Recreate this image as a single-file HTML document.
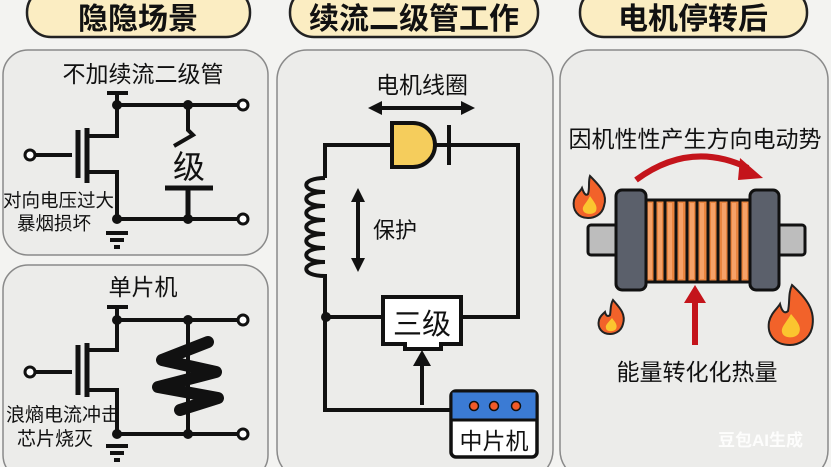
<!DOCTYPE html>
<html><head><meta charset="utf-8"><style>
html,body{margin:0;padding:0;background:#f3f3f1;}
svg{display:block}
text{font-family:"Liberation Sans","Noto Sans CJK SC",sans-serif;fill:#111}
</style></head><body>
<svg width="831" height="467" viewBox="0 0 831 467" xmlns="http://www.w3.org/2000/svg">
<rect width="831" height="467" fill="#f3f3f1"/>
<g stroke="#222" stroke-width="2.5" fill="#fbedc2">
<rect x="27" y="-12" width="223" height="49" rx="24"/>
<rect x="290" y="-12" width="248" height="49" rx="24"/>
<rect x="580" y="-12" width="227" height="49" rx="24"/>
</g>
<g font-size="30" font-weight="bold" text-anchor="middle">
<text x="138" y="29">隐隐场景</text>
<text x="414" y="29">续流二级管工作</text>
<text x="693" y="29">电机停转后</text>
</g>
<g stroke="#8a8a8a" stroke-width="1.5" fill="#ececea">
<rect x="3" y="50" width="265" height="205" rx="25"/>
<rect x="3" y="265" width="265" height="215" rx="25"/>
<rect x="277" y="50" width="276" height="430" rx="30"/>
<rect x="560" y="50" width="268" height="430" rx="30"/>
</g>
<text x="143" y="82" font-size="23" text-anchor="middle">不加续流二级管</text>
<g stroke="#111" stroke-width="4" fill="none">
<path d="M107 93H128M117 93V136H88M117 105H240M88 172H117V219H240M30 155H72"/>
<path d="M78 130V178M87 128V183" stroke-width="5"/>
<path d="M188 105V130L193 135L174 146"/>
<path d="M165 188H213M188 188V219" stroke-width="5"/>
<path d="M106 233H128M110 240H124M114 247H120"/>
</g>
<g fill="#111"><circle cx="117" cy="105" r="5"/><circle cx="188" cy="105" r="5"/><circle cx="117" cy="219" r="5"/><circle cx="188" cy="219" r="5"/></g>
<g fill="#fff" stroke="#111" stroke-width="3"><circle cx="243" cy="105" r="5"/><circle cx="243" cy="219" r="5"/><circle cx="30" cy="155" r="5"/></g>
<text x="189" y="178" font-size="32" text-anchor="middle">级</text>
<text x="3" y="207" font-size="18.5">对向电压过大</text>
<text x="17" y="230" font-size="18.5">暴烟损坏</text>
<text x="143" y="295" font-size="23" text-anchor="middle">单片机</text>
<g stroke="#111" stroke-width="4" fill="none">
<path d="M107 307H128M117 307V350H88M117 320H240M88 390H117V434H240M30 372H72M188 320V434"/>
<path d="M78 345V395M87 343V397" stroke-width="5"/>
<path d="M106 446H128M110 453H124M114 460H120"/>
</g>
<polyline points="208,342 162,360 216,372 158,387 218,398 180,410" fill="none" stroke="#111" stroke-width="12" stroke-linejoin="round" stroke-linecap="round"/>
<g fill="#111"><circle cx="117" cy="320" r="5"/><circle cx="188" cy="320" r="5"/><circle cx="117" cy="434" r="5"/><circle cx="188" cy="434" r="5"/></g>
<g fill="#fff" stroke="#111" stroke-width="3"><circle cx="243" cy="320" r="5"/><circle cx="243" cy="434" r="5"/><circle cx="30" cy="372" r="5"/></g>
<text x="6" y="421" font-size="19">浪熵电流冲击</text>
<text x="17" y="445" font-size="19">芯片烧灭</text>
<text x="422" y="93" font-size="23" text-anchor="middle">电机线圈</text>
<g stroke="#111" stroke-width="4" fill="none">
<path d="M378 108H465M358 198V262"/>
<path d="M392 145H325V178M435 145H518V317H462M325 282V410H450M325 317H382M449 125V165M422 405V362"/>
<path d="M325 178C300 178 300 192 325 192C300 192 300 206 325 206C300 206 300 220 325 220C300 220 300 234 325 234C300 234 300 248 325 248C300 248 300 262 325 262C300 262 300 276 325 276V282"/>
</g>
<g fill="#111">
<polygon points="368,108 382,101 382,115"/><polygon points="475,108 461,101 461,115"/>
<polygon points="358,188 351,202 365,202"/><polygon points="358,272 351,258 365,258"/>
<polygon points="422,350 413,366 431,366"/>
<circle cx="326" cy="317" r="5"/>
</g>
<path d="M392 123H413A22 22 0 0 1 413 167H392Z" fill="#f5cd5c" stroke="#111" stroke-width="4"/>
<text x="373" y="238" font-size="22">保护</text>
<path d="M383 297H461V344H441V349H405V344H383Z" fill="#fff" stroke="#111" stroke-width="4"/>
<text x="422" y="334" font-size="29" text-anchor="middle">三级</text>
<rect x="451" y="391" width="86" height="66" rx="5" fill="#fff" stroke="#111" stroke-width="3.5"/>
<path d="M452.5 392.5H535.5V420H452.5Z" fill="#3b7bd4"/>
<path d="M451 420H537" stroke="#111" stroke-width="3"/>
<g fill="#f05a28" stroke="#111" stroke-width="1.5"><circle cx="474" cy="406" r="4.5"/><circle cx="494" cy="406" r="4.5"/><circle cx="516" cy="406" r="4.5"/></g>
<text x="494" y="449" font-size="23" text-anchor="middle">中片机</text>
<text x="695" y="147" font-size="23" text-anchor="middle">因机性性产生方向电动势</text>
<path d="M636 180Q690 140 748 168" stroke="#c4141b" stroke-width="6" fill="none"/>
<polygon points="763,178 740,158 738,180" fill="#c4141b"/>
<rect x="588" y="225" width="217" height="30" rx="3" fill="#bdbdbd" stroke="#111" stroke-width="3"/>
<rect x="645" y="200" width="105" height="82" fill="#e9843f" stroke="#111" stroke-width="3"/>
<g stroke="#111" stroke-width="3">
<path d="M655 200V282M665 200V282M676 200V282M687 200V282M697 200V282M708 200V282M718 200V282M729 200V282M740 200V282"/>
</g>
<g stroke="#f6a168" stroke-width="4">
<path d="M650 203V279M660 203V279M670 203V279M681 203V279M692 203V279M702 203V279M713 203V279M724 203V279M734 203V279M745 203V279"/>
</g>
<rect x="616" y="190" width="30" height="100" rx="6" fill="#5b606b" stroke="#111" stroke-width="3"/>
<rect x="750" y="190" width="29" height="100" rx="6" fill="#5b606b" stroke="#111" stroke-width="3"/>
<path d="M695 345V300" stroke="#c4141b" stroke-width="6"/>
<polygon points="695,285 684,303 706,303" fill="#c4141b"/>
<g stroke="#222" stroke-width="2">
<path d="M590 176C600 186 608 194 604 206C602 215 594 218 588 218C578 218 572 210 574 200C576 194 580 192 582 188C584 194 586 196 588 194C590 188 588 182 590 176Z" fill="#f2622a"/>
<path d="M590 196C594 202 598 206 596 211C594 215 584 215 583 210C582 206 586 204 590 196Z" fill="#fbc52f" stroke="none"/>
<path d="M613 300C620 308 626 314 623 324C621 332 614 334 610 334C602 334 597 328 599 320C600 316 603 314 605 312C606 316 608 317 610 315C611 310 610 305 613 300Z" fill="#f2622a"/>
<path d="M612 318C615 322 618 325 616 329C614 332 606 332 606 328C605 325 608 323 612 318Z" fill="#fbc52f" stroke="none"/>
<path d="M792 285C806 298 816 310 812 328C809 340 798 345 790 345C775 345 767 335 769 322C771 313 777 309 780 304C782 312 785 314 788 311C790 302 788 294 792 285Z" fill="#f2622a"/>
<path d="M791 314C797 321 802 327 799 333C796 339 783 339 782 332C781 327 786 323 791 314Z" fill="#fbc52f" stroke="none"/>
</g>
<text x="697" y="380" font-size="23" text-anchor="middle">能量转化化热量</text>
<text x="718" y="446" font-size="17" font-weight="bold" style="fill:#ffffff;opacity:0.9">豆包AI生成</text>
</svg>
</body></html>
